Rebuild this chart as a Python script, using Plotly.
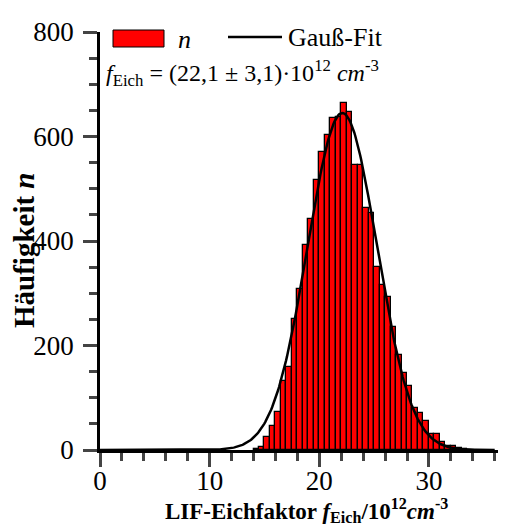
import numpy as np
import plotly.graph_objects as go

# Histogram data (bin centres, width 0.5)
bin_centers = [14.25, 14.75, 15.25, 15.75, 16.25, 16.75, 17.25, 17.75, 18.25, 18.75,
               19.25, 19.75, 20.25, 20.75, 21.25, 21.75, 22.25, 22.75, 23.25, 23.75,
               24.25, 24.75, 25.25, 25.75, 26.25, 26.75, 27.25, 27.75, 28.25, 28.75,
               29.25, 29.75, 30.25, 30.75, 31.25, 31.75, 32.25, 32.75, 33.25]
counts = [2, 5, 24, 45, 73, 132, 159, 250, 308, 392,
          442, 517, 571, 603, 635, 638, 665, 647, 545, 545,
          463, 454, 351, 316, 293, 236, 182, 147, 122, 80,
          71, 55, 30, 30, 15, 8, 7, 4, 2]
bin_width = 0.5

# Gauss fit parameters
fit_center = 22.1
fit_sigma = 3.15
fit_amplitude = 645

x_ticks = [0, 10, 20, 30]
y_ticks = [0, 200, 400, 600, 800]

fit_x = np.linspace(0, 36, 400)
fit_y = fit_amplitude * np.exp(-0.5 * ((fit_x - fit_center) / fit_sigma) ** 2)

FONT = "Liberation Serif, Times New Roman, serif"

L, R, T, B = 100, 13, 32, 79
W, H = 511, 529
PW, PH = W - L - R, H - T - B


def px(xp):
    return (xp - L) / PW


def py(yp):
    return (H - B - yp) / PH


fig = go.Figure()
fig.add_trace(go.Bar(x=bin_centers, y=counts, width=bin_width,
                     marker=dict(color="#ff0000", line=dict(color="black", width=1.3)),
                     showlegend=False))
fig.add_trace(go.Scatter(x=fit_x, y=fit_y, mode="lines",
                         line=dict(color="black", width=2.5), showlegend=False))

axis_common = dict(ticks="outside", ticklen=14, tickwidth=2.5, showline=True,
                   linecolor="black", linewidth=2.5, showgrid=False, zeroline=False,
                   tickfont=dict(size=27, family=FONT, color="black"), automargin=False)

fig.update_layout(
    width=W, height=H,
    margin=dict(l=L, r=R, t=T, b=B, autoexpand=False),
    plot_bgcolor="white", paper_bgcolor="white",
    font=dict(family=FONT, color="black"),
    bargap=0,
    xaxis=dict(range=[0, 36.3], tickvals=x_ticks, ticklabelstandoff=-9,
               minor=dict(dtick=2, ticks="outside", ticklen=8, tickwidth=2.5, showgrid=False),
               **axis_common),
    yaxis=dict(range=[0, 800], tickvals=y_ticks, ticklabelstandoff=4,
               minor=dict(dtick=50, ticks="outside", ticklen=8, tickwidth=2.5, showgrid=False),
               **axis_common),
)

# Axis titles
fig.add_annotation(xref="paper", yref="paper", x=px(306), y=py(511),
                   text="<b>LIF-Eichfaktor <i>f</i><sub>Eich</sub>/10<sup>12</sup><i>cm</i><sup>-3</sup></b>",
                   showarrow=False, xanchor="center", yanchor="middle",
                   font=dict(size=23, family=FONT))
fig.add_annotation(xref="paper", yref="paper", x=px(24), y=py(250), textangle=-90,
                   text="<b>Häufigkeit <i>n</i></b>",
                   showarrow=False, xanchor="center", yanchor="middle",
                   font=dict(size=29, family=FONT))

# Legend drawn manually
fig.add_shape(type="rect", xref="paper", yref="paper",
              x0=px(113), x1=px(164), y0=py(47), y1=py(30),
              fillcolor="#ff0000", line=dict(color="black", width=1))
fig.add_annotation(xref="paper", yref="paper", x=px(176), y=py(39),
                   text="<i>n</i>", showarrow=False, xanchor="left", yanchor="middle",
                   font=dict(size=26, family=FONT))
fig.add_shape(type="line", xref="paper", yref="paper",
              x0=px(228), x1=px(282), y0=py(37), y1=py(37),
              line=dict(color="black", width=2.5))
fig.add_annotation(xref="paper", yref="paper", x=px(286), y=py(37),
                   text="Gauß-Fit", showarrow=False, xanchor="left", yanchor="middle",
                   font=dict(size=26, family=FONT))
fig.add_annotation(xref="paper", yref="paper", x=px(104), y=py(73),
                   text="<i>f</i><sub>Eich</sub> = (22,1 ± 3,1)·10<sup>12</sup> <i>cm</i><sup>-3</sup>",
                   showarrow=False, xanchor="left", yanchor="middle",
                   font=dict(size=24, family=FONT))

fig.write_html("out.html", config={"displayModeBar": False},
               post_script="document.body.style.margin='0';document.body.style.padding='0';")
